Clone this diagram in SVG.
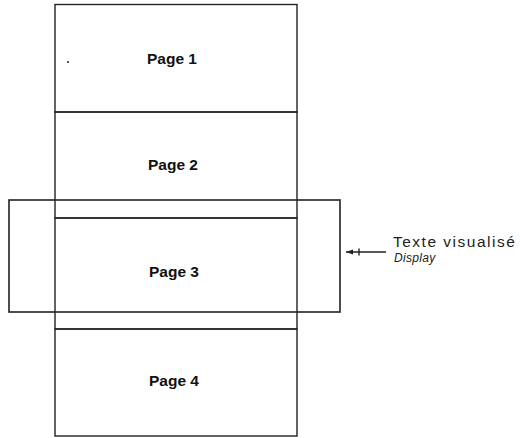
<svg xmlns="http://www.w3.org/2000/svg" width="520" height="438" viewBox="0 0 520 438">
<style>
.pg{fill:none;stroke:#222;stroke-width:1.4}
.win{fill:none;stroke:#222;stroke-width:1.6}
.lbl{font-family:"Liberation Sans",Arial,sans-serif;font-weight:bold;font-size:15.5px;fill:#111;text-anchor:middle}
.side{font-family:"Liberation Sans",Arial,sans-serif;font-size:15.5px;fill:#222;letter-spacing:1.5px}
.it{font-family:"Liberation Sans",Arial,sans-serif;font-style:italic;font-size:12px;fill:#222;letter-spacing:0.3px}
.ln{stroke:#222;stroke-width:1.4;fill:none}
</style>
<defs>
<marker id="ah" viewBox="0 0 10 10" refX="0" refY="5" markerWidth="7" markerHeight="7" orient="auto" markerUnits="userSpaceOnUse">
<path d="M10,1.5 L0,5 L10,8.5 Z" fill="#222"/>
</marker>
</defs>
<g id="page1">
<rect class="pg" x="55" y="4.5" width="242" height="107.5"/>
<text class="lbl" x="172" y="64">Page 1</text>
<line class="ln" x1="67" y1="62" x2="69" y2="62"/>
</g>
<g id="page2">
<rect class="pg" x="55" y="112" width="242" height="106"/>
<text class="lbl" x="173" y="170">Page 2</text>
</g>
<g id="page3">
<rect class="pg" x="55" y="218" width="242" height="111"/>
<text class="lbl" x="174" y="277">Page 3</text>
</g>
<g id="page4">
<rect class="pg" x="55" y="329" width="242" height="107"/>
<text class="lbl" x="174" y="386">Page 4</text>
</g>
<g id="display">
<rect class="win" x="9" y="200" width="331" height="112"/>
</g>
<g id="label">
<text class="side" x="393" y="247">Texte visualisé</text>
<text class="it" x="394" y="262">Display</text>
</g>
<g id="connectors">
<line class="ln" x1="346" y1="252" x2="386" y2="252" marker-start="url(#ah)"/>
<line class="ln" x1="359" y1="248.5" x2="359" y2="255.5"/>
</g>
</svg>
